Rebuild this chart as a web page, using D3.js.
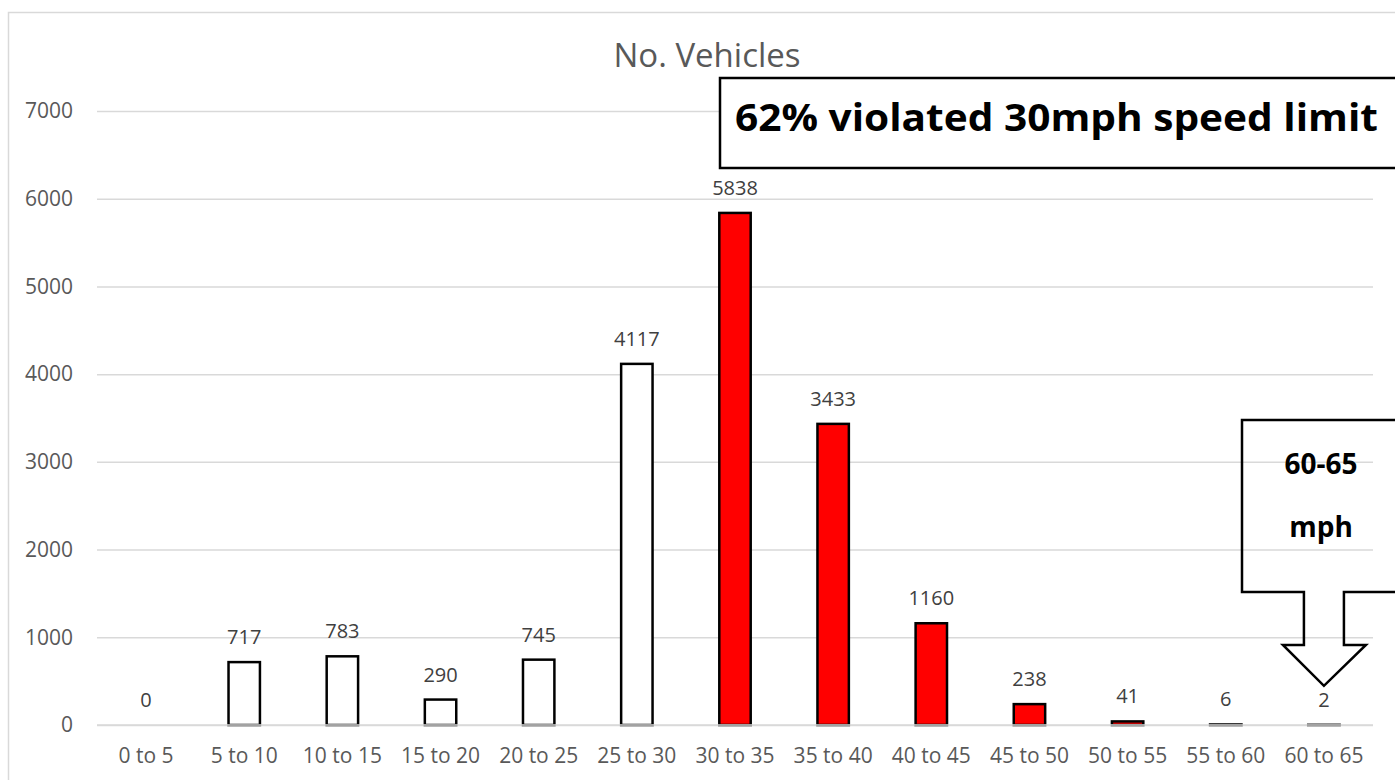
<!DOCTYPE html>
<html><head><meta charset="utf-8">
<script src="https://cdn.jsdelivr.net/npm/d3@7"></script>
<style>
html,body{margin:0;padding:0;background:#fff;overflow:hidden;}
svg{display:block;font-family:"Open Sans",sans-serif;}
</style></head>
<body>
<svg id="chart" width="1395" height="780"></svg>
<script>
const categories = ["0 to 5","5 to 10","10 to 15","15 to 20","20 to 25","25 to 30","30 to 35","35 to 40","40 to 45","45 to 50","50 to 55","55 to 60","60 to 65"];
const vehicles = [0,717,783,290,745,4117,5838,3433,1160,238,41,6,2];
const violating = [false,false,false,false,false,false,true,true,true,true,true,true,true];
const yTicks = [0,1000,2000,3000,4000,5000,6000,7000];
const title = "No. Vehicles";
const annotation = "62% violated 30mph speed limit";
const calloutLines = ["60-65","mph"];

const svg = d3.select("#chart");
const plot = {left: 97, right: 1373, top: 111, bottom: 725};

// outer chart border
svg.append("rect").attr("x",8.5).attr("y",12.5).attr("width",1420).attr("height",800)
  .attr("fill","#fff").attr("stroke","#d9d9d9").attr("stroke-width",1.5);

const x = d3.scaleBand().domain(categories).range([plot.left, plot.right]).paddingInner(0.68).paddingOuter(0.34);
const y = d3.scaleLinear().domain([0,7000]).range([plot.bottom, plot.top]);

// gridlines
const yAxis = d3.axisLeft(y).tickValues(yTicks).tickSize(-(plot.right-plot.left)).tickPadding(24).tickFormat(d3.format("d"));
const gy = svg.append("g").attr("transform",`translate(${plot.left},0)`).call(yAxis);
gy.select(".domain").remove();
gy.selectAll(".tick line").attr("stroke","#d9d9d9").attr("stroke-width",1.5);
gy.selectAll(".tick text").attr("fill","#595959").style("font-size","21px").style("font-family","'Open Sans',sans-serif");

// bars
svg.append("g").selectAll("rect").data(categories).join("rect")
  .attr("x", d => x(d))
  .attr("width", x.bandwidth())
  .attr("y", (d,i) => y(vehicles[i]))
  .attr("height", (d,i) => y(0) - y(vehicles[i]))
  .attr("fill", (d,i) => violating[i] ? "#ff0000" : "#ffffff")
  .attr("stroke","#000").attr("stroke-width",2.5);

// axis line on top
svg.append("line").attr("x1",plot.left).attr("x2",plot.right).attr("y1",y(0)).attr("y2",y(0))
  .attr("stroke","#d9d9d9").attr("stroke-width",1.5);

// x axis labels
const xAxis = d3.axisBottom(x).tickSize(0).tickPadding(23);
const gx = svg.append("g").attr("transform",`translate(0,${plot.bottom})`).call(xAxis);
gx.select(".domain").remove();
gx.selectAll(".tick text").attr("fill","#595959").style("font-size","21px").style("font-family","'Open Sans',sans-serif");

// data labels
svg.append("g").selectAll("text").data(categories).join("text")
  .attr("x", d => x(d) + x.bandwidth()/2)
  .attr("y", (d,i) => y(vehicles[i]) - 18)
  .attr("text-anchor","middle")
  .attr("fill","#404040").style("font-size","20px")
  .text((d,i) => vehicles[i]);

// title
svg.append("text").attr("x",707).attr("y",67).attr("text-anchor","middle")
  .attr("fill","#595959").style("font-size","33px").text(title);

// annotation box
svg.append("rect").attr("x",720).attr("y",78).attr("width",720).attr("height",90)
  .attr("fill","#fff").attr("stroke","#000").attr("stroke-width",2.5);
svg.append("text").attr("x",735).attr("y",131)
  .attr("textLength",643).attr("lengthAdjust","spacingAndGlyphs")
  .attr("fill","#000").style("font-size","37px").style("font-weight","bold").text(annotation);

// callout arrow pointing to last bar
const cx = x("60 to 65") + x.bandwidth()/2;
const tipY = y(vehicles[12]) - 39;
const callout = d3.path();
callout.moveTo(1242,420); callout.lineTo(1420,420); callout.lineTo(1420,592);
callout.lineTo(cx+20,592); callout.lineTo(cx+20,645); callout.lineTo(cx+42,645);
callout.lineTo(cx,tipY); callout.lineTo(cx-41,645); callout.lineTo(cx-20,645);
callout.lineTo(cx-20,592); callout.lineTo(1242,592); callout.closePath();
svg.append("path").attr("d",callout.toString()).attr("fill","none")
  .attr("stroke","#000").attr("stroke-width",2.5).attr("stroke-linejoin","miter");
svg.append("g").selectAll("text").data(calloutLines).join("text")
  .attr("x",1321).attr("y",(d,i)=> i===0 ? 474 : 537)
  .attr("text-anchor","middle").attr("fill","#000")
  .style("font-size","28px").style("font-weight","bold").text(d=>d);
</script>
</body></html>
